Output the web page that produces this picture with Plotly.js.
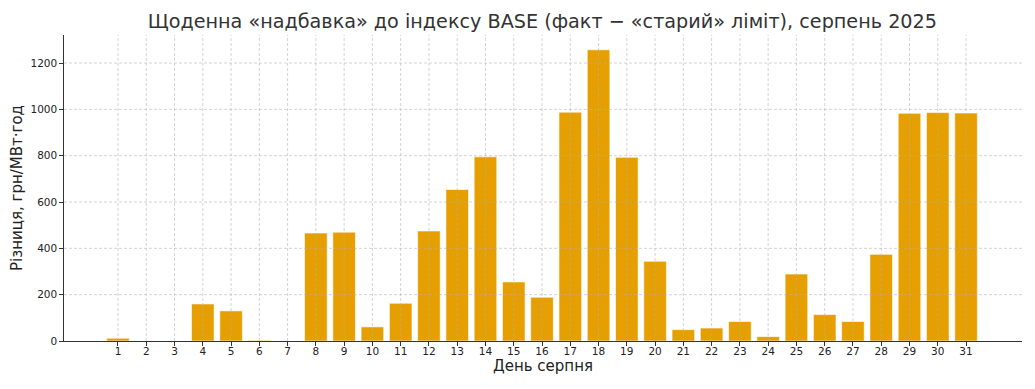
<!DOCTYPE html>
<html>
<head>
<meta charset="utf-8">
<script src="https://cdn.plot.ly/plotly-3.0.1.min.js"></script>
<style>html,body{margin:0;padding:0;background:#fff;}#chart{width:1035px;height:389px;}</style>
</head>
<body>
<div id="chart"></div>
<script>
const days = [1,2,3,4,5,6,7,8,9,10,11,12,13,14,15,16,17,18,19,20,21,22,23,24,25,26,27,28,29,30,31];
const premium = [12,0,0,160,130,3,0,466,470,61,163,475,654,795,255,189,988,1257,793,344,49,56,84,19,289,114,84,374,983,986,984];
const tickLabels = days.map(String);
const yTicks = [0,200,400,600,800,1000,1200];

const trace = {
  type: 'bar',
  x: days,
  y: premium,
  width: 0.8,
  marker: {color: '#E69F00', line: {color: 'rgba(255,255,255,0.6)', width: 1}},
  hoverinfo: 'x+y'
};

const gridStyle = {color: 'rgba(176,176,176,0.55)', width: 1, dash: '3px,2px'};
const shapes = [];
days.forEach(d => shapes.push({type: 'line', layer: 'above', xref: 'x', yref: 'paper', x0: d, x1: d, y0: 0, y1: 1, line: gridStyle}));
yTicks.filter(v => v > 0).forEach(v => shapes.push({type: 'line', layer: 'above', xref: 'paper', yref: 'y', x0: 0, x1: 1, y0: v, y1: v, line: gridStyle}));

const layout = {
  width: 1035, height: 389,
  margin: {l: 64, r: 13, t: 35, b: 48},
  paper_bgcolor: '#fff', plot_bgcolor: '#fff',
  font: {family: 'DejaVu Sans', color: '#222', size: 10.5},
  showlegend: false,
  shapes: shapes,
  title: {text: 'Щоденна «надбавка» до індексу BASE (факт − «старий» ліміт), серпень 2025',
          font: {size: 19.2, color: '#333', family: 'DejaVu Sans'}, x: 0.524, xanchor: 'center', y: 0.945, yanchor: 'middle'},
  xaxis: {
    range: [-0.91, 32.98],
    tickmode: 'array', tickvals: days, ticktext: tickLabels,
    ticks: 'outside', ticklen: 3.5, tickcolor: '#333', tickwidth: 1,
    ticklabelstandoff: -3,
    showline: true, linecolor: '#333', linewidth: 1.2,
    showgrid: false,
    zeroline: false,
    title: {text: 'День серпня', font: {size: 15, color: '#222'}, standoff: 1}
  },
  yaxis: {
    range: [0, 1321],
    tickmode: 'array', tickvals: yTicks,
    ticks: 'outside', ticklen: 3.5, tickcolor: '#333', tickwidth: 1,
    showline: true, linecolor: '#333', linewidth: 1.2,
    showgrid: false,
    zeroline: false,
    title: {text: 'Різниця, грн/МВт·год', font: {size: 15, color: '#222'}, standoff: 4}
  },
  bargap: 0.2
};

Plotly.newPlot('chart', [trace], layout, {displayModeBar: false, staticPlot: true});
</script>
</body>
</html>
